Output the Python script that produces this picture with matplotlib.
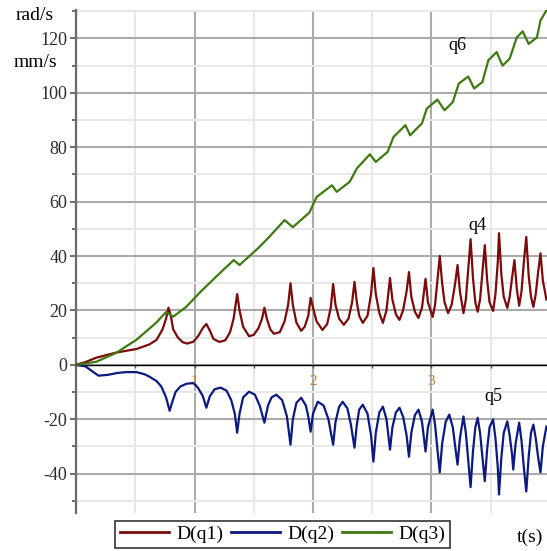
import matplotlib
matplotlib.use('Agg')
import matplotlib.pyplot as plt

# values
t_q1 = [0.00, 0.08, 0.17, 0.34, 0.51, 0.62, 0.68, 0.73, 0.76, 0.78, 0.80, 0.82, 0.86, 0.90, 0.94,
        0.99, 1.03, 1.07, 1.10, 1.13, 1.16, 1.21, 1.26, 1.30, 1.33, 1.36, 1.38, 1.41, 1.46, 1.50,
        1.54, 1.57, 1.59, 1.61, 1.64, 1.67, 1.72, 1.76, 1.79, 1.81, 1.83, 1.86, 1.90, 1.93, 1.96,
        1.98, 2.00, 2.03, 2.08, 2.12, 2.15, 2.17, 2.19, 2.22, 2.26, 2.30, 2.33, 2.35, 2.37, 2.39,
        2.42, 2.46, 2.49, 2.51, 2.53, 2.56, 2.59, 2.62, 2.65, 2.67, 2.70, 2.73, 2.76, 2.79, 2.81,
        2.83, 2.86, 2.89, 2.92, 2.95, 2.97, 3.01, 3.03, 3.05, 3.07, 3.09, 3.11, 3.14, 3.17, 3.20,
        3.22, 3.24, 3.27, 3.29, 3.31, 3.33, 3.35, 3.37, 3.39, 3.41, 3.43, 3.45, 3.47, 3.49, 3.52,
        3.54, 3.56, 3.57, 3.59, 3.61, 3.64, 3.66, 3.68, 3.70, 3.72, 3.74, 3.76, 3.78, 3.80, 3.82,
        3.84, 3.86, 3.88, 3.90, 3.92, 3.94, 3.97]
v_q1 = [0, 1.0, 2.6, 4.5, 5.8, 7.5, 9.2, 13, 17, 21, 18, 13, 10, 8.3, 7.8,
        8.5, 10.5, 13.5, 15, 12.5, 9.5, 8.4, 9.0, 12, 17, 26, 20, 14, 10.5, 11,
        13.5, 17, 21, 17, 13, 11.4, 12, 16, 22, 30, 22, 15.5, 12.5, 14, 18,
        24.6, 21, 16, 12.8, 15, 21, 29.7, 22, 17, 14.7, 17, 23, 30.5, 23, 18,
        15.4, 18, 26, 35.6, 26, 19, 15.4, 20, 31.9, 24, 18.5, 16.5, 20, 27, 34.1,
        25, 19.5, 17.2, 21, 31.6, 23, 17.6, 22, 31, 40, 30, 23, 19, 22, 30,
        36.7, 27, 19, 24, 35, 46.2, 32, 23, 19.5, 24, 34, 44, 31, 23, 19.8,
        26, 38, 48.4, 33, 25, 20.9, 25, 32, 38.5, 28, 21.7, 27, 38, 47, 33,
        25, 21.3, 26, 34, 41, 31, 24]

t_q2 = [0.00, 0.08, 0.14, 0.19, 0.27, 0.35, 0.42, 0.51, 0.58, 0.62, 0.68, 0.72, 0.76, 0.79, 0.81,
        0.84, 0.88, 0.93, 0.99, 1.03, 1.07, 1.10, 1.13, 1.17, 1.22, 1.27, 1.31, 1.34, 1.36, 1.38,
        1.41, 1.46, 1.51, 1.55, 1.59, 1.62, 1.65, 1.69, 1.74, 1.78, 1.81, 1.83, 1.86, 1.90, 1.94,
        1.96, 1.98, 2.00, 2.04, 2.09, 2.13, 2.17, 2.19, 2.22, 2.25, 2.29, 2.32, 2.35, 2.37, 2.39,
        2.42, 2.46, 2.49, 2.51, 2.53, 2.56, 2.59, 2.62, 2.65, 2.67, 2.70, 2.73, 2.76, 2.79, 2.81,
        2.83, 2.86, 2.89, 2.92, 2.95, 2.97, 3.01, 3.03, 3.05, 3.07, 3.09, 3.12, 3.15, 3.18, 3.20,
        3.22, 3.24, 3.27, 3.29, 3.31, 3.33, 3.35, 3.37, 3.39, 3.41, 3.43, 3.45, 3.47, 3.49, 3.52,
        3.54, 3.56, 3.57, 3.59, 3.61, 3.64, 3.66, 3.68, 3.69, 3.71, 3.74, 3.76, 3.78, 3.80, 3.82,
        3.84, 3.86, 3.88, 3.90, 3.92, 3.94, 3.97]
v_q2 = [0, -0.6, -2.5, -4, -3.7, -3, -2.7, -2.7, -3.5, -4.4, -6, -8, -12, -16.9, -14,
        -10, -8, -7, -6.7, -8.5, -11.5, -15.8, -11.5, -9, -8.4, -9.5, -13, -18, -25, -18,
        -12, -9.9, -11, -15, -21.3, -15, -12, -11, -13, -19, -29.4, -20, -14, -12.1, -15,
        -19, -24.6, -18, -13.6, -15, -20, -29.4, -21, -15.5, -13.6, -16, -22, -30.5, -22, -16.5,
        -14.7, -18, -26, -35.6, -25, -17.5, -15.4, -20, -31.2, -23, -17.5, -15.8, -19, -26, -33.8,
        -25, -18.5, -16.5, -21, -31.9, -23, -16.5, -22, -31, -39.6, -29, -21, -18.3, -23, -30,
        -36.7, -27, -19, -25, -35, -45, -32, -23, -19.5, -25, -34, -42.8, -31, -23, -20.1,
        -27, -38, -47.7, -34, -25, -20.8, -26, -33, -38.5, -29, -21.3, -28, -38, -46.6, -34,
        -25, -22, -27, -34, -39.6, -30, -22.7]

t_q3 = [0.00, 0.17, 0.34, 0.51, 0.675, 0.76, 0.82, 0.93, 1.05, 1.18, 1.33, 1.38, 1.54, 1.63, 1.76,
        1.83, 1.97, 2.03, 2.16, 2.20, 2.31, 2.37, 2.48, 2.53, 2.63, 2.68, 2.78, 2.82, 2.92, 2.96,
        3.05, 3.11, 3.18, 3.23, 3.31, 3.36, 3.43, 3.48, 3.55, 3.60, 3.66, 3.72, 3.77, 3.82, 3.89,
        3.92, 3.97]
v_q3 = [0, 1.1, 4.4, 9.2, 15.4, 19.4, 17.7, 21.3, 26.8, 32.3, 38.5, 36.7, 43, 47, 53.2,
        50.6, 56, 61.7, 66, 63.6, 67.3, 72.2, 77.4, 74.6, 78.3, 83.8, 88.1, 84.4, 88.8, 94.2,
        97.5, 93.6, 96.6, 103.4, 106, 101.6, 104, 112, 115, 110, 112.6, 120.4, 122.6, 118, 120.4,
        126.6, 130.3]

series_names = ['D(q1)', 'D(q2)', 'D(q3)']
y_major = [-40, -20, 0, 20, 40, 60, 80, 100, 120]
y_minor = [-50, -30, -10, 10, 30, 50, 70, 90, 110, 130]
x_major = [1, 2, 3]
x_minor = [0.5, 1.5, 2.5, 3.5]

serif = 'Liberation Serif'
plt.rcParams['font.family'] = serif
plt.rcParams['axes.unicode_minus'] = False

fig = plt.figure(figsize=(5.47, 5.51), dpi=100)
ax = fig.add_axes([0.139, 0.069, 0.861, 0.913])

l1, = ax.plot(t_q1, v_q1, color='#7b0a0a', lw=1.6, zorder=3)
l2, = ax.plot(t_q2, v_q2, color='#0c1a80', lw=1.6, zorder=3)
l3, = ax.plot(t_q3, v_q3, color='#3d7a10', lw=1.6, zorder=3)

ax.set_xlim(0, 3.975)
ax.set_ylim(-54.5, 130.5)

ax.set_xticks(x_major)
ax.set_xticks(x_minor, minor=True)
ax.set_yticks(y_major)
ax.set_yticks(y_minor, minor=True)
ax.grid(which='major', color='#ababab', lw=1.5, zorder=0)
ax.grid(which='minor', color='#e8e8e8', lw=1.5, zorder=0)
ax.set_axisbelow(True)

ax.spines['top'].set_visible(False)
ax.spines['right'].set_visible(False)
ax.spines['bottom'].set_position(('data', 0))
ax.spines['bottom'].set_color('black')
ax.spines['bottom'].set_linewidth(1.0)
ax.spines['bottom'].set_zorder(2.5)
ax.spines['left'].set_color('#6a6a6a')
ax.spines['left'].set_linewidth(1.6)

ax.tick_params(axis='y', which='major', length=4.5, width=1.2, color='#555555',
               labelsize=13, labelcolor='#2b2b2b', pad=2)
ax.tick_params(axis='y', which='minor', length=3, width=1.2, color='#555555')
ax.tick_params(axis='x', which='both', length=2.5, width=1, color='#555555',
               labelsize=11, labelcolor='#c08030', pad=5)

ax.text(3.22, 117.4, 'q6', fontsize=13, ha='center', va='center')
ax.text(3.39, 51.4, 'q4', fontsize=13, ha='center', va='center')
ax.text(3.52, -11.7, 'q5', fontsize=13, ha='center', va='center')

fig.text(0.064, 0.971, 'rad/s', fontsize=14, ha='center', va='center')
fig.text(0.064, 0.886, 'mm/s', fontsize=14, ha='center', va='center')
fig.text(0.969, 0.024, 't(s)', fontsize=14, ha='center', va='center')

leg = fig.legend([l1, l2, l3], series_names, loc='center', bbox_to_anchor=(0.517, 0.030),
                 ncol=3, fontsize=14, frameon=True, fancybox=False, edgecolor='black',
                 handlelength=2.5, handletextpad=0.4, columnspacing=0.4, borderpad=0.25)
leg.get_frame().set_linewidth(1.2)
for line in leg.get_lines():
  line.set_linewidth(2)

fig.savefig('out.png', dpi=100)
